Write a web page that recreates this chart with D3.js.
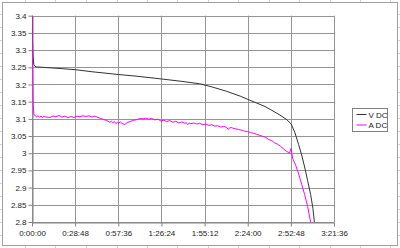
<!DOCTYPE html>
<html>
<head>
<meta charset="utf-8">
<script src="https://cdn.jsdelivr.net/npm/d3@7"></script>
<style>
  body { margin: 0; background: #fff; }
  svg { display: block; font-family: "Liberation Sans", Arial, sans-serif; }
</style>
</head>
<body>
<div id="chart"></div>
<script>
// time axis in minutes, one tick every 28:48
const timeTickValues = [0, 28.8, 57.6, 86.4, 115.2, 144, 172.8, 201.6];
const timeTickLabels = ["0:00:00", "0:28:48", "0:57:36", "1:26:24", "1:55:12", "2:24:00", "2:52:48", "3:21:36"];
const voltTicks = [2.8, 2.85, 2.9, 2.95, 3, 3.05, 3.1, 3.15, 3.2, 3.25, 3.3, 3.35, 3.4];

// V DC series
const vMinutes = [0, 0.3, 0.7, 1.2, 2, 3, 10, 20, 28.8, 40, 57.6, 70, 86.4, 100, 112, 120, 130, 139, 145, 150,
  155.5, 160, 165.5, 170, 173, 175.5, 178, 180, 182, 184, 186, 187.5, 188.5];
const vValues = [3.40, 3.33, 3.28, 3.258, 3.253, 3.251, 3.249, 3.246, 3.243, 3.237, 3.229, 3.224, 3.216, 3.209, 3.202, 3.193, 3.180, 3.166, 3.155, 3.146,
  3.136, 3.125, 3.111, 3.098, 3.085, 3.060, 3.025, 2.995, 2.960, 2.920, 2.880, 2.840, 2.800];

// A DC series
const aMinutes = [0, 0.4, 0.8, 1.3, 2, 3, 4, 5, 6, 7, 8, 10, 12, 14, 16, 18, 20, 22, 24, 26, 28, 30, 32, 34, 36, 38, 40,
  42, 44, 46, 48, 50, 52, 53, 54, 55, 56, 57, 58, 59, 60, 61, 62, 63, 64, 66, 68, 70, 72, 74, 76, 78, 80, 82, 84, 86, 88, 90,
  92, 94, 96, 98, 100, 102, 103, 104, 105, 106, 108, 110, 112, 114, 116, 118, 120, 122, 124, 126, 128, 130,
  131, 132, 133, 134, 136, 138, 140, 142, 144, 146, 148, 150, 152, 154, 156, 158, 160, 162, 164, 166, 168, 170,
  172, 173, 173.5, 174, 176, 178, 180, 182, 184, 186, 187.7];
const aValues = [3.40, 3.25, 3.14, 3.112, 3.110, 3.106, 3.109, 3.105, 3.108, 3.104, 3.107, 3.105, 3.104, 3.108, 3.106, 3.110, 3.105, 3.108, 3.103, 3.107, 3.104, 3.108, 3.106, 3.109, 3.107, 3.109, 3.105,
  3.108, 3.104, 3.101, 3.098, 3.095, 3.090, 3.093, 3.089, 3.092, 3.086, 3.090, 3.088, 3.091, 3.087, 3.085, 3.083, 3.088, 3.090, 3.093, 3.096, 3.098, 3.101, 3.100, 3.102, 3.099, 3.101, 3.097, 3.099, 3.094, 3.096, 3.092,
  3.095, 3.090, 3.093, 3.088, 3.091, 3.087, 3.089, 3.083, 3.088, 3.086, 3.088, 3.085, 3.087, 3.083, 3.085, 3.081, 3.083, 3.079, 3.080, 3.076, 3.078,
  3.075, 3.069, 3.074, 3.075, 3.073, 3.071, 3.069, 3.067, 3.064, 3.063, 3.060, 3.058, 3.055, 3.052, 3.049, 3.046, 3.040, 3.037, 3.030, 3.026, 3.020, 3.012,
  3.005, 3.001, 3.014, 2.998, 2.985, 2.965, 2.940, 2.910, 2.880, 2.845, 2.800];

const seriesNames = ["V DC", "A DC"];
const seriesColors = ["#333333", "#ff00ff"];

const width = 400, height = 248;
const plot = { left: 32, right: 334, top: 15.7, bottom: 222 };

const svg = d3.select("#chart").append("svg")
  .attr("width", width)
  .attr("height", height);

// spreadsheet cell edges peeking out around the chart object
const edge = svg.append("g").attr("stroke", "#d4d4d4").attr("stroke-width", 1);
[25, 55, 86, 117, 147, 177, 208, 238, 269, 299, 330, 360, 390].forEach(x => {
  edge.append("line").attr("x1", x + 0.5).attr("x2", x + 0.5).attr("y1", 0).attr("y2", 2);
  edge.append("line").attr("x1", x + 0.5).attr("x2", x + 0.5).attr("y1", 246).attr("y2", 248);
});
[14, 27, 40, 53, 66, 79, 92, 105, 118, 131, 144, 157, 170, 183, 196, 209, 222, 235].forEach(y => {
  edge.append("line").attr("x1", 0).attr("x2", 2).attr("y1", y + 0.5).attr("y2", y + 0.5);
  edge.append("line").attr("x1", 398).attr("x2", 400).attr("y1", y + 0.5).attr("y2", y + 0.5);
});

// chart frame
svg.append("rect")
  .attr("x", 2.5).attr("y", 2.5)
  .attr("width", 395).attr("height", 243)
  .attr("fill", "#fff")
  .attr("stroke", "#a0a0a0");

const x = d3.scaleLinear().domain([0, 201.6]).range([plot.left, plot.right]);
const y = d3.scaleLinear().domain([2.8, 3.4]).range([plot.bottom, plot.top]);

// gridlines
const grid = svg.append("g").attr("stroke", "#959595").attr("stroke-width", 1);
grid.selectAll(".hg").data(voltTicks).join("line")
  .attr("x1", plot.left).attr("x2", plot.right)
  .attr("y1", d => Math.round(y(d)) + 0.5).attr("y2", d => Math.round(y(d)) + 0.5);
grid.selectAll(".vg").data(timeTickValues).join("line")
  .attr("x1", d => Math.round(x(d)) + 0.5).attr("x2", d => Math.round(x(d)) + 0.5)
  .attr("y1", plot.top).attr("y2", plot.bottom);

// axes
const xAxis = svg.append("g")
  .attr("transform", `translate(0,${Math.round(plot.bottom) + 0.5})`)
  .call(d3.axisBottom(x).tickValues(timeTickValues)
    .tickFormat((d, i) => timeTickLabels[i]).tickSize(4).tickSizeOuter(0));
const yAxis = svg.append("g")
  .attr("transform", `translate(${plot.left + 0.5},0)`)
  .call(d3.axisLeft(y).tickValues(voltTicks).tickFormat(d3.format("")).tickSize(4).tickSizeOuter(0));

[xAxis, yAxis].forEach(a => {
  a.select(".domain").attr("stroke", "#808080");
  a.selectAll(".tick line").attr("stroke", "#808080");
  a.selectAll(".tick text")
    .attr("fill", "#222")
    .style("font-size", "8px")
    .style("font-family", "'Liberation Sans', Arial, sans-serif");
});
xAxis.selectAll(".tick text").attr("dy", "0.95em").attr("y", 6);
yAxis.selectAll(".tick text").attr("x", -6);

// clip lines to plot area
svg.append("clipPath").attr("id", "plotclip")
  .append("rect")
  .attr("x", plot.left).attr("y", plot.top - 1)
  .attr("width", plot.right - plot.left).attr("height", plot.bottom - plot.top + 1);

const line = d3.line().x(d => x(d[0])).y(d => y(d[1]));
const seriesData = [
  d3.zip(vMinutes, vValues),
  d3.zip(aMinutes, aValues)
];

svg.append("g").attr("clip-path", "url(#plotclip)")
  .selectAll("path").data(seriesData).join("path")
  .attr("d", line)
  .attr("fill", "none")
  .attr("stroke", (d, i) => seriesColors[i])
  .attr("stroke-width", 1);

// legend
const legend = svg.append("g").attr("transform", "translate(352.5,108.5)");
legend.append("rect")
  .attr("width", 35).attr("height", 23)
  .attr("fill", "#fff").attr("stroke", "#808080");
seriesNames.forEach((name, i) => {
  const ly = 6 + i * 10.5;
  legend.append("line")
    .attr("x1", 4).attr("x2", 14)
    .attr("y1", ly).attr("y2", ly)
    .attr("stroke", seriesColors[i]);
  legend.append("text")
    .attr("x", 16).attr("y", ly + 3)
    .attr("fill", "#222")
    .style("font-size", "8px")
    .text(name);
});
</script>
</body>
</html>
